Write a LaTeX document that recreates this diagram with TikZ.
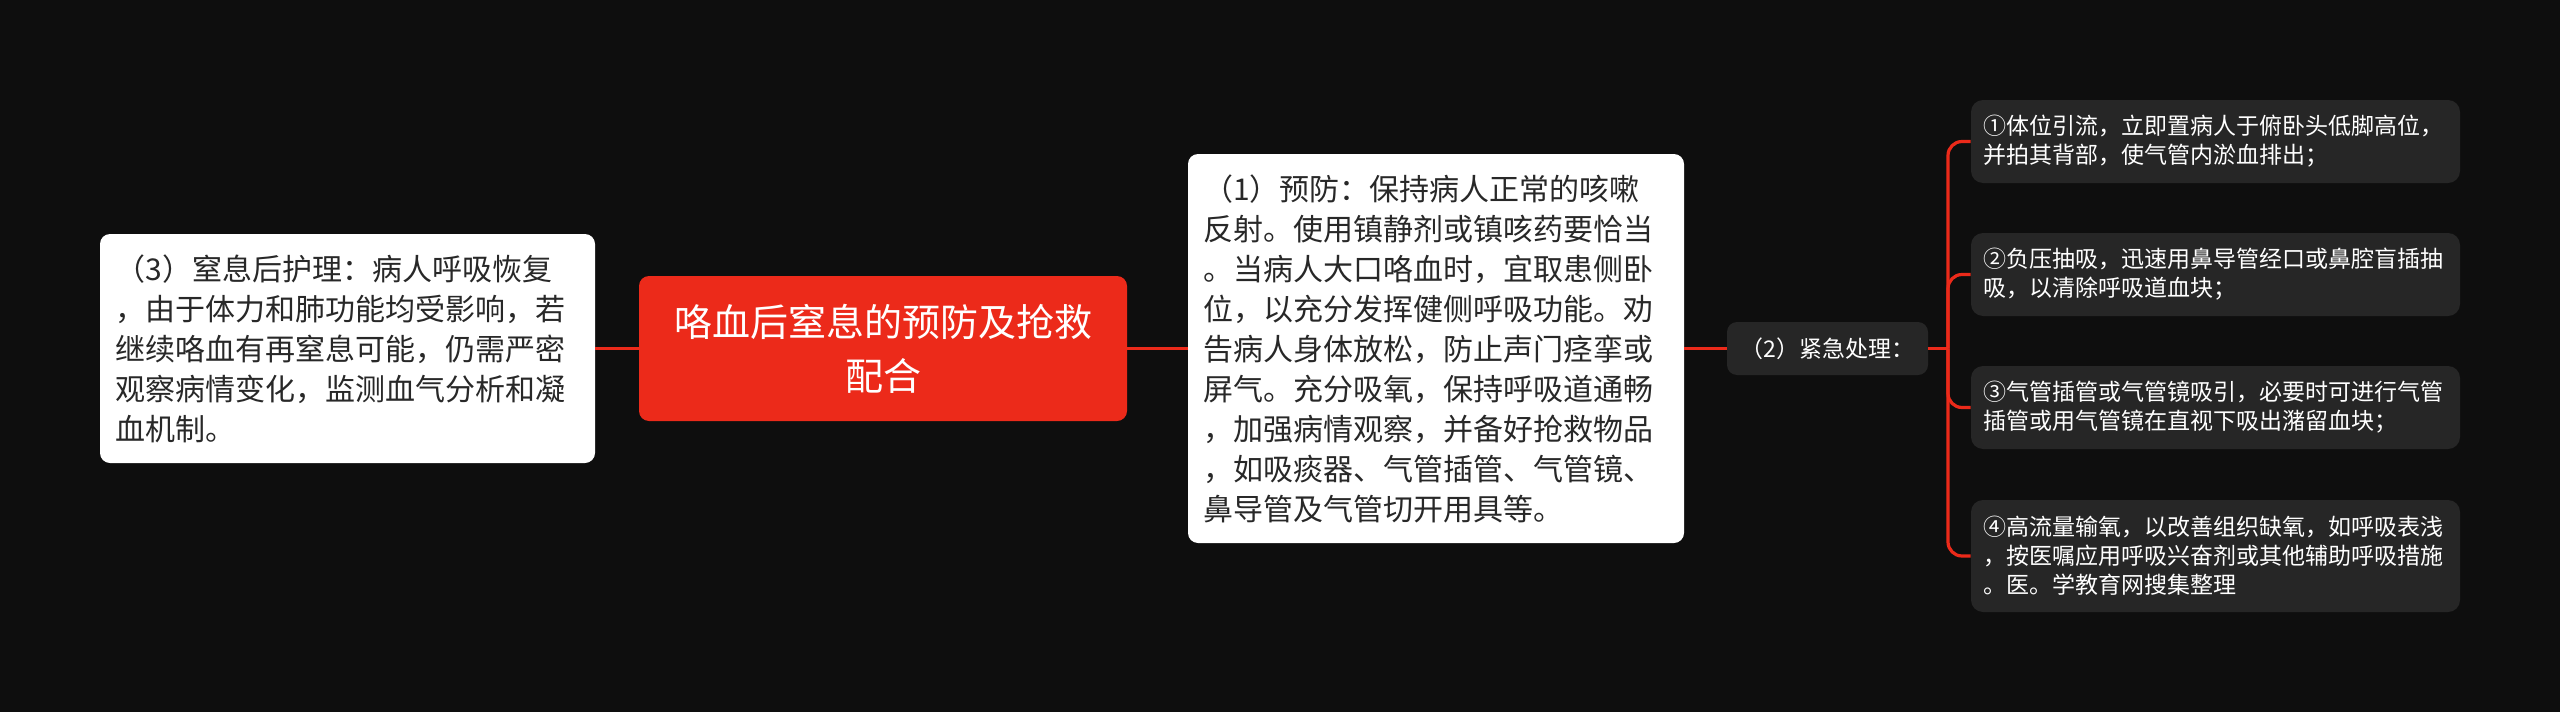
\documentclass[tikz,border=0pt]{standalone}
\usepackage{fontspec}
\setmainfont{Noto Sans CJK SC}
\usepackage{tikz}
\usepackage{xcolor}
\definecolor{bgdark}{RGB}{14,14,14}
\definecolor{mapred}{RGB}{236,42,26}
\definecolor{leafgray}{RGB}{38,38,38}
\definecolor{inktext}{RGB}{40,40,40}
\tikzstyle{link} = [draw=mapred,line width=1.6pt]

\begin{document}
\begin{tikzpicture}
        [
            x=0.5pt, y=-0.5pt,
            whitebox/.style={rectangle,fill=white,rounded corners=5pt,inner sep=0pt,text=inktext,align=left,font=\fontsize{15pt}{20pt}\selectfont},
            titlebox/.style={rectangle,fill=mapred,rounded corners=5pt,text=white,align=center,minimum width=244pt,minimum height=72.5pt,font=\fontsize{19pt}{27pt}\selectfont},
            qbox/.style={rectangle,fill=leafgray,rounded corners=5pt,text=white,minimum width=100.5pt,minimum height=26.5pt,font=\fontsize{11.5pt}{14pt}\selectfont},
            leafbox/.style={rectangle,fill=leafgray,rounded corners=6pt,inner sep=0pt,text=white,align=left,text width=232.5pt,minimum width=244.5pt,font=\fontsize{11.5pt}{14.5pt}\selectfont},
        ]
    \fill[bgdark] (0,0) rectangle (2560,712);
    \useasboundingbox (0,0) rectangle (2560,712);

    \node[whitebox,text width=232pt,minimum width=247.5pt,minimum height=114.5pt] (care) at (347.5,348.5)
        {（3）窒息后护理：病人呼吸恢复\\，由于体力和肺功能均受影响，若\\继续咯血有再窒息可能，仍需严密\\观察病情变化，监测血气分析和凝\\血机制。};
    \node[titlebox] (title) at (883,348.5) {咯血后窒息的预防及抢救\\配合};
    \node[whitebox,text width=233pt,minimum width=248pt,minimum height=194.5pt] (prevent) at (1436,348.5)
        {（1）预防：保持病人正常的咳嗽\\反射。使用镇静剂或镇咳药要恰当\\。当病人大口咯血时，宜取患侧卧\\位，以充分发挥健侧呼吸功能。劝\\告病人身体放松，防止声门痉挛或\\屏气。充分吸氧，保持呼吸道通畅\\，加强病情观察，并备好抢救物品\\，如吸痰器、气管插管、气管镜、\\鼻导管及气管切开用具等。};
    \node[qbox] (urgent) at (1827.5,348.5) {（2）紧急处理：};
    \coordinate (trunk) at (1948,348.5);

    \node[leafbox,minimum height=41.5pt] (leaf1) at (2215.5,141.5)
        {①体位引流，立即置病人于俯卧头低脚高位，\\并拍其背部，使气管内淤血排出；};
    \node[leafbox,minimum height=41.5pt] (leaf2) at (2215.5,274.5)
        {②负压抽吸，迅速用鼻导管经口或鼻腔盲插抽\\吸，以清除呼吸道血块；};
    \node[leafbox,minimum height=41.5pt] (leaf3) at (2215.5,407.5)
        {③气管插管或气管镜吸引，必要时可进行气管\\插管或用气管镜在直视下吸出潴留血块；};
    \node[leafbox,minimum height=56pt] (leaf4) at (2215.5,556)
        {④高流量输氧，以改善组织缺氧，如呼吸表浅\\，按医嘱应用呼吸兴奋剂或其他辅助呼吸措施\\。医。学教育网搜集整理};

    \draw[link] (care) -- (title);
    \draw[link] (title) -- (prevent);
    \draw[link] (prevent) -- (urgent);
    \draw[link] (urgent) -- (trunk);
    \foreach \n in {1,...,4}
        \draw[link,rounded corners=7pt] (trunk) |- (leaf\n.west);
    \end{tikzpicture}
\end{document}
